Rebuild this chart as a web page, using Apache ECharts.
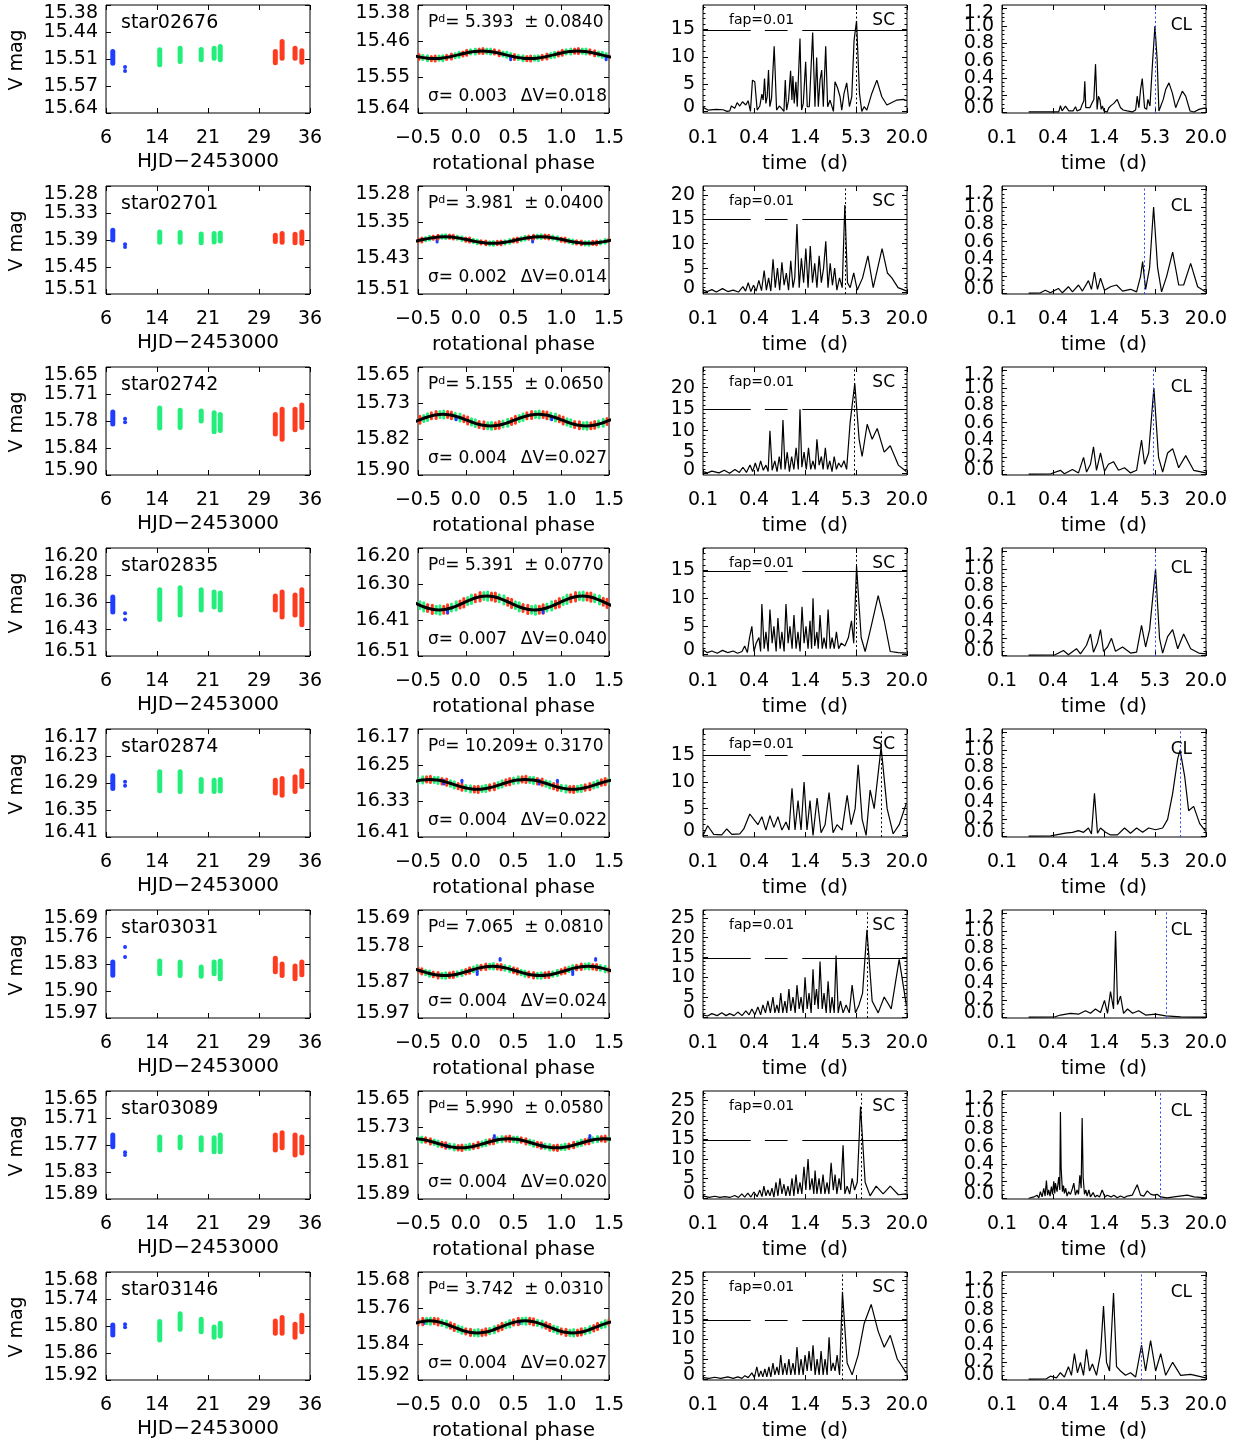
<!DOCTYPE html>
<html>
<head>
<meta charset="utf-8">
<script src="https://cdn.jsdelivr.net/npm/echarts@6/dist/echarts.min.js"></script>
<style>
  html, body { margin: 0; padding: 0; background: #fff; }
  #chart { width: 1247px; height: 1443px; }
</style>
</head>
<body>
<div id="chart"></div>
<script>
// ---------- per-star summary ----------
const starNames  = ['star02676','star02701','star02742','star02835','star02874','star03031','star03089','star03146'];
const periods    = [5.393, 3.981, 5.155, 5.391, 10.209, 7.065, 5.990, 3.742];
const periodErrs = [0.0840, 0.0400, 0.0650, 0.0770, 0.3170, 0.0810, 0.0580, 0.0310];
const sigmas     = [0.003, 0.002, 0.004, 0.007, 0.004, 0.004, 0.004, 0.004];
const deltaVs    = [0.018, 0.014, 0.027, 0.040, 0.022, 0.024, 0.020, 0.027];

// ---------- tick labels ----------
const hjdRange = [6, 36];
const hjdTickLabels = ['6','14','21','29','36'];
const phaseRange = [-0.5, 1.5];
const phaseTickLabels = ['\u22120.5','0.0','0.5','1.0','1.5'];
const periodTickLabels = ['0.1','0.4','1.4','5.3','20.0'];
const lcTickLabels = [
  ['15.38','15.44','15.51','15.57','15.64'],
  ['15.28','15.33','15.39','15.45','15.51'],
  ['15.65','15.71','15.78','15.84','15.90'],
  ['16.20','16.28','16.36','16.43','16.51'],
  ['16.17','16.23','16.29','16.35','16.41'],
  ['15.69','15.76','15.83','15.90','15.97'],
  ['15.65','15.71','15.77','15.83','15.89'],
  ['15.68','15.74','15.80','15.86','15.92']
];
const phTickLabels = [
  ['15.38','15.46','15.55','15.64'],
  ['15.28','15.35','15.43','15.51'],
  ['15.65','15.73','15.82','15.90'],
  ['16.20','16.30','16.41','16.51'],
  ['16.17','16.25','16.33','16.41'],
  ['15.69','15.78','15.87','15.97'],
  ['15.65','15.73','15.81','15.89'],
  ['15.68','15.76','15.84','15.92']
];
const scTickValues = [0, 5, 10, 15, 20, 25];
const scTopPower = [19.5, 21.8, 24.8, 19.0, 19.9, 27.0, 27.5, 27.0];
const fapLevels  = [14.9, 14.9, 14.9, 14.9, 14.9, 14.9, 14.9, 14.9];
// pieces of the fap=0.01 level line, in log10(days)
const fapPieces = [[-1.0, -0.461], [-0.302, -0.046], [0.120, 1.301]];
const clTickValues = [0, 0.2, 0.4, 0.6, 0.8, 1.0, 1.2];
const clTickLabels = ['0.0','0.2','0.4','0.6','0.8','1.0','1.2'];

// ---------- light curves: [HJD-2453000, mag top, mag bottom, run] ----------
const lc1 = [[7.0,15.492,15.520,0],[8.8,15.529,15.529,0],[8.8,15.539,15.539,0],[13.9,15.488,15.524,1],[16.9,15.484,15.516,1],[20.0,15.487,15.512,1],[21.9,15.484,15.508,1],[22.8,15.480,15.512,1],[30.9,15.492,15.519,2],[31.9,15.468,15.508,2],[33.8,15.484,15.508,2],[34.8,15.490,15.518,2]];
const lc2 = [[7.0,15.374,15.395,0],[8.8,15.404,15.404,0],[8.8,15.410,15.410,0],[13.9,15.378,15.400,1],[16.9,15.379,15.400,1],[20.0,15.382,15.401,1],[21.9,15.381,15.399,1],[22.8,15.380,15.397,1],[30.9,15.385,15.398,2],[31.9,15.381,15.400,2],[33.8,15.383,15.401,2],[34.8,15.378,15.402,2]];
const lc3 = [[7.0,15.754,15.782,0],[8.8,15.770,15.770,0],[8.8,15.778,15.778,0],[13.9,15.745,15.791,1],[16.9,15.750,15.790,1],[20.0,15.752,15.775,1],[21.9,15.756,15.800,1],[22.8,15.760,15.797,1],[30.9,15.760,15.805,2],[31.9,15.748,15.817,2],[33.8,15.748,15.795,2],[34.8,15.738,15.790,2]];
const lc4 = [[7.0,16.341,16.384,0],[8.8,16.387,16.387,0],[8.8,16.405,16.405,0],[13.9,16.320,16.405,1],[16.9,16.314,16.392,1],[20.0,16.320,16.378,1],[21.9,16.326,16.369,1],[22.8,16.329,16.378,1],[30.9,16.338,16.378,2],[31.9,16.326,16.398,2],[33.8,16.335,16.392,2],[34.8,16.320,16.420,2]];
const lc5 = [[7.0,16.274,16.302,0],[8.8,16.287,16.287,0],[8.8,16.296,16.296,0],[13.9,16.265,16.307,1],[16.9,16.265,16.309,1],[20.0,16.282,16.309,1],[21.9,16.284,16.309,1],[22.8,16.282,16.308,1],[30.9,16.284,16.312,2],[31.9,16.280,16.317,2],[33.8,16.276,16.309,2],[34.8,16.263,16.298,2]];
const lc6 = [[7.0,15.825,15.859,0],[8.8,15.812,15.812,0],[8.8,15.786,15.786,0],[13.9,15.822,15.855,1],[16.9,15.825,15.860,1],[20.0,15.838,15.862,1],[21.9,15.825,15.855,1],[22.8,15.822,15.868,1],[30.9,15.815,15.850,2],[31.9,15.830,15.860,2],[33.8,15.835,15.868,2],[34.8,15.825,15.858,2]];
const lc7 = [[7.0,15.748,15.774,0],[8.8,15.786,15.786,0],[8.8,15.792,15.792,0],[13.9,15.752,15.781,1],[16.9,15.752,15.776,1],[20.0,15.754,15.781,1],[21.9,15.754,15.785,1],[22.8,15.748,15.785,1],[30.9,15.748,15.781,2],[31.9,15.743,15.776,2],[33.8,15.748,15.792,2],[34.8,15.752,15.788,2]];
const lc8 = [[7.0,15.798,15.820,0],[8.8,15.796,15.796,0],[8.8,15.803,15.803,0],[13.9,15.790,15.831,1],[16.9,15.773,15.807,1],[20.0,15.785,15.813,1],[21.9,15.802,15.825,1],[22.8,15.794,15.822,1],[30.9,15.789,15.816,2],[31.9,15.781,15.816,2],[33.8,15.796,15.825,2],[34.8,15.776,15.813,2]];

// ---------- nightly groups folded on one cycle: [phase, mean mag, half spread, run] ----------
const ph1 = [[0.18,15.491,0.006,2],[0.22,15.491,0.005,1],[0.26,15.492,0.006,1],[0.30,15.493,0.005,2],[0.35,15.496,0.006,2],[0.39,15.498,0.005,1],[0.43,15.500,0.006,1],[0.47,15.502,0.005,1],[0.51,15.505,0.006,2],[0.55,15.506,0.005,1],[0.60,15.508,0.006,1],[0.64,15.509,0.005,2],[0.68,15.509,0.006,2],[0.72,15.508,0.005,1],[0.76,15.508,0.006,1],[0.80,15.506,0.005,2],[0.85,15.504,0.006,2],[0.89,15.502,0.005,1],[0.93,15.500,0.006,1],[0.97,15.498,0.005,2],[0.01,15.495,0.006,2],[0.05,15.493,0.005,1],[0.10,15.492,0.006,1],[0.14,15.491,0.005,2],[0.47,15.509,0.003,0]];
const ph2 = [[0.79,15.388,0.004,1],[0.83,15.388,0.0035,2],[0.87,15.389,0.004,2],[0.91,15.390,0.0035,1],[0.96,15.392,0.004,1],[0.00,15.394,0.0035,2],[0.04,15.395,0.004,2],[0.08,15.397,0.0035,1],[0.12,15.399,0.004,1],[0.16,15.400,0.0035,2],[0.21,15.401,0.004,2],[0.25,15.402,0.0035,1],[0.29,15.402,0.004,1],[0.33,15.401,0.0035,2],[0.37,15.401,0.004,2],[0.41,15.400,0.0035,1],[0.46,15.398,0.004,1],[0.50,15.396,0.0035,2],[0.54,15.395,0.004,2],[0.58,15.393,0.0035,1],[0.62,15.391,0.004,1],[0.66,15.390,0.0035,2],[0.71,15.389,0.004,2],[0.75,15.388,0.0035,1],[0.70,15.396,0.003,0]];
const ph3 = [[0.77,15.760,0.008,1],[0.81,15.760,0.007,2],[0.85,15.762,0.008,2],[0.89,15.764,0.007,1],[0.94,15.767,0.008,1],[0.98,15.770,0.007,2],[0.02,15.774,0.008,2],[0.06,15.777,0.007,1],[0.10,15.780,0.008,1],[0.14,15.783,0.007,2],[0.19,15.785,0.008,2],[0.23,15.786,0.007,1],[0.27,15.786,0.008,1],[0.31,15.786,0.007,2],[0.35,15.784,0.008,2],[0.39,15.782,0.007,1],[0.44,15.779,0.008,1],[0.48,15.776,0.007,2],[0.52,15.772,0.008,2],[0.56,15.769,0.007,1],[0.60,15.766,0.008,1],[0.64,15.763,0.007,2],[0.69,15.761,0.008,2],[0.73,15.760,0.007,1],[0.90,15.768,0.004,0]];
const ph4 = [[0.23,16.338,0.012,1],[0.27,16.339,0.010,2],[0.31,16.341,0.012,2],[0.35,16.344,0.010,1],[0.40,16.349,0.012,1],[0.44,16.354,0.010,2],[0.48,16.359,0.012,2],[0.52,16.364,0.010,1],[0.56,16.369,0.012,1],[0.60,16.372,0.010,2],[0.65,16.376,0.012,2],[0.69,16.377,0.010,1],[0.73,16.378,0.012,1],[0.77,16.377,0.010,2],[0.81,16.375,0.012,2],[0.85,16.371,0.010,1],[0.90,16.366,0.012,1],[0.94,16.362,0.010,2],[0.98,16.357,0.012,2],[0.02,16.352,0.010,1],[0.06,16.347,0.012,1],[0.10,16.344,0.010,2],[0.15,16.340,0.012,2],[0.19,16.338,0.010,1],[0.81,16.382,0.004,0]];
const ph5 = [[0.63,16.282,0.007,2],[0.67,16.283,0.006,1],[0.71,16.284,0.007,1],[0.75,16.286,0.006,2],[0.80,16.288,0.007,2],[0.84,16.291,0.006,1],[0.88,16.294,0.007,1],[0.92,16.297,0.006,2],[0.96,16.299,0.007,2],[0.00,16.301,0.006,1],[0.05,16.303,0.007,1],[0.09,16.304,0.006,2],[0.13,16.304,0.007,2],[0.17,16.303,0.006,1],[0.21,16.302,0.007,1],[0.25,16.300,0.006,2],[0.30,16.298,0.007,2],[0.34,16.295,0.006,1],[0.38,16.292,0.007,1],[0.42,16.289,0.006,2],[0.46,16.287,0.007,2],[0.50,16.285,0.006,1],[0.55,16.283,0.007,1],[0.59,16.282,0.006,2],[0.77,16.288,0.004,0],[0.96,16.286,0.002,0]];
const ph6 = [[0.29,15.836,0.007,1],[0.33,15.837,0.006,2],[0.37,15.838,0.007,2],[0.41,15.840,0.006,1],[0.46,15.843,0.007,1],[0.50,15.846,0.006,2],[0.54,15.849,0.007,2],[0.58,15.852,0.006,1],[0.62,15.855,0.007,1],[0.66,15.857,0.006,2],[0.71,15.859,0.007,2],[0.75,15.860,0.006,1],[0.79,15.860,0.007,1],[0.83,15.859,0.006,2],[0.87,15.858,0.007,2],[0.91,15.856,0.006,1],[0.96,15.853,0.007,1],[0.00,15.850,0.006,2],[0.04,15.847,0.007,2],[0.08,15.844,0.006,1],[0.12,15.841,0.007,1],[0.16,15.839,0.006,2],[0.21,15.837,0.007,2],[0.25,15.836,0.006,1],[0.36,15.818,0.002,0],[0.12,15.853,0.004,0]];
const ph7 = [[0.46,15.756,0.006,2],[0.50,15.757,0.005,1],[0.54,15.758,0.006,1],[0.58,15.759,0.005,2],[0.63,15.762,0.006,2],[0.67,15.764,0.005,1],[0.71,15.767,0.006,1],[0.75,15.769,0.005,2],[0.79,15.771,0.006,2],[0.83,15.773,0.005,1],[0.88,15.775,0.006,1],[0.92,15.776,0.005,2],[0.96,15.776,0.006,2],[0.00,15.775,0.005,1],[0.04,15.774,0.006,1],[0.08,15.773,0.005,2],[0.13,15.770,0.006,2],[0.17,15.768,0.005,1],[0.21,15.765,0.006,1],[0.25,15.763,0.005,2],[0.29,15.761,0.006,2],[0.33,15.759,0.005,1],[0.38,15.757,0.006,1],[0.42,15.756,0.005,2],[0.30,15.752,0.003,0],[0.80,15.772,0.002,0]];
const ph8 = [[0.63,15.789,0.007,1],[0.67,15.789,0.006,2],[0.71,15.791,0.007,2],[0.75,15.793,0.006,1],[0.80,15.796,0.007,1],[0.84,15.799,0.006,2],[0.88,15.803,0.007,2],[0.92,15.806,0.006,1],[0.96,15.809,0.007,1],[0.00,15.812,0.006,2],[0.05,15.814,0.007,2],[0.09,15.815,0.006,1],[0.13,15.815,0.007,1],[0.17,15.815,0.006,2],[0.21,15.813,0.007,2],[0.25,15.811,0.006,1],[0.30,15.808,0.007,1],[0.34,15.805,0.006,2],[0.38,15.801,0.007,2],[0.42,15.798,0.006,1],[0.46,15.795,0.007,1],[0.50,15.792,0.006,2],[0.55,15.790,0.007,2],[0.59,15.789,0.006,1],[0.57,15.792,0.002,0],[0.83,15.798,0.002,0]];

// ---------- sinusoidal fits sampled over one cycle: [phase, mag] ----------
const fit1 = [[0.17,15.491],[0.253,15.4922],[0.337,15.4955],[0.42,15.500],[0.503,15.5045],[0.587,15.5078],[0.67,15.509],[0.753,15.5078],[0.837,15.5045],[0.92,15.500],[0.003,15.4955],[0.087,15.4922]];
const fit2 = [[0.78,15.388],[0.863,15.3889],[0.947,15.3915],[0.03,15.395],[0.113,15.3985],[0.197,15.4011],[0.28,15.402],[0.363,15.4011],[0.447,15.3985],[0.53,15.395],[0.613,15.3915],[0.697,15.3889]];
const fit3 = [[0.76,15.7595],[0.843,15.7613],[0.927,15.7663],[0.01,15.773],[0.093,15.7798],[0.177,15.7847],[0.26,15.7865],[0.343,15.7847],[0.427,15.7798],[0.51,15.773],[0.593,15.7663],[0.677,15.7613]];
const fit4 = [[0.22,16.338],[0.303,16.3407],[0.387,16.348],[0.47,16.358],[0.553,16.368],[0.637,16.3753],[0.72,16.378],[0.803,16.3753],[0.887,16.368],[0.97,16.358],[0.053,16.348],[0.137,16.3407]];
const fit5 = [[0.62,16.282],[0.703,16.2835],[0.787,16.2875],[0.87,16.293],[0.953,16.2985],[0.037,16.3025],[0.12,16.304],[0.203,16.3025],[0.287,16.2985],[0.37,16.293],[0.453,16.2875],[0.537,16.2835]];
const fit6 = [[0.28,15.836],[0.363,15.8376],[0.447,15.842],[0.53,15.848],[0.613,15.854],[0.697,15.8584],[0.78,15.860],[0.863,15.8584],[0.947,15.854],[0.03,15.848],[0.113,15.842],[0.197,15.8376]];
const fit7 = [[0.45,15.756],[0.533,15.7573],[0.617,15.761],[0.70,15.766],[0.783,15.771],[0.867,15.7747],[0.95,15.776],[0.033,15.7747],[0.117,15.771],[0.20,15.766],[0.283,15.761],[0.367,15.7573]];
const fit8 = [[0.62,15.7885],[0.703,15.7903],[0.787,15.7953],[0.87,15.802],[0.953,15.8088],[0.037,15.8137],[0.12,15.8155],[0.203,15.8137],[0.287,15.8088],[0.37,15.802],[0.453,15.7953],[0.537,15.7903]];

// ---------- Scargle periodograms: [log10(period / d), power] ----------
const sc1 = [[-1.000,0.73],[-0.943,0.24],[-0.850,0.35],[-0.774,0.30],[-0.729,0.00],[-0.698,0.10],[-0.680,0.98],[-0.642,0.55],[-0.615,1.58],[-0.585,0.98],[-0.555,1.77],[-0.517,1.16],[-0.491,1.95],[-0.465,0.00],[-0.442,5.73],[-0.416,5.42],[-0.389,0.24],[-0.359,0.98],[-0.336,3.17],[-0.321,2.07],[-0.306,6.03],[-0.291,1.46],[-0.276,2.68],[-0.261,7.56],[-0.246,0.85],[-0.227,2.38],[-0.197,11.94],[-0.170,0.24],[-0.140,0.98],[-0.114,0.55],[-0.087,0.00],[-0.072,5.73],[-0.057,0.24],[-0.035,2.07],[-0.012,7.43],[0.003,2.07],[0.014,6.46],[0.029,1.46],[0.048,5.42],[0.063,0.85],[0.094,13.35],[0.112,0.24],[0.131,1.46],[0.158,9.08],[0.176,0.85],[0.199,0.85],[0.237,14.44],[0.263,0.85],[0.282,9.87],[0.301,0.85],[0.320,5.73],[0.339,7.56],[0.357,0.85],[0.384,11.94],[0.406,0.85],[0.433,2.07],[0.471,0.00],[0.489,5.42],[0.516,4.39],[0.546,2.68],[0.565,0.24],[0.591,3.29],[0.621,5.24],[0.652,0.85],[0.678,2.68],[0.704,13.04],[0.732,16.58],[0.765,3.29],[0.791,0.00],[0.818,0.85],[0.848,0.24],[0.904,3.29],[0.961,5.73],[1.017,2.68],[1.074,1.16],[1.187,2.07],[1.262,2.19],[1.301,1.95]];
const sc2 = [[-1.0,0.5],[-0.95,0.2],[-0.90,0.6],[-0.85,0.1],[-0.78,0.8],[-0.72,0.2],[-0.66,0.5],[-0.60,0.1],[-0.55,1.2],[-0.52,0.3],[-0.49,2.0],[-0.46,0.2],[-0.43,1.5],[-0.40,0.3],[-0.37,2.5],[-0.34,0.4],[-0.31,4.5],[-0.285,0.5],[-0.26,3],[-0.235,0.3],[-0.21,6.8],[-0.185,1],[-0.16,5],[-0.135,0.5],[-0.11,6.2],[-0.085,1.5],[-0.06,4],[-0.035,0.5],[-0.01,6.5],[0.015,1],[0.035,3],[0.060,14],[0.085,1],[0.11,7],[0.135,2],[0.16,9],[0.185,1],[0.21,9.5],[0.235,2],[0.26,6],[0.285,1],[0.31,7.5],[0.335,2],[0.36,5],[0.385,10.5],[0.41,1],[0.435,6],[0.46,1.5],[0.485,5],[0.51,0.5],[0.54,3],[0.57,1],[0.600,17.9],[0.63,2],[0.66,1],[0.70,4],[0.74,0.5],[0.80,3],[0.86,7.5],[0.92,1],[0.97,5],[1.02,9],[1.08,4],[1.13,3],[1.20,1],[1.301,0.3]];
const sc3 = [[-1.0,0.5],[-0.95,0.2],[-0.90,0.6],[-0.82,0.2],[-0.76,0.8],[-0.70,0.1],[-0.64,1.0],[-0.59,0.3],[-0.55,1.5],[-0.51,0.3],[-0.47,2],[-0.44,0.5],[-0.41,2.5],[-0.38,0.5],[-0.35,3],[-0.32,0.8],[-0.29,2],[-0.265,0.5],[-0.245,10],[-0.22,0.8],[-0.19,3],[-0.165,0.5],[-0.14,4],[-0.12,1],[-0.098,12.5],[-0.075,1],[-0.05,5],[-0.025,0.5],[0.0,4],[0.025,1],[0.05,6],[0.075,1],[0.094,15],[0.115,1.5],[0.14,5],[0.165,1],[0.19,6],[0.215,1],[0.24,3],[0.265,1],[0.285,8],[0.31,2],[0.335,4],[0.355,1],[0.38,6],[0.405,1],[0.43,3],[0.455,0.5],[0.48,4],[0.505,1],[0.53,2.5],[0.56,1.5],[0.59,3],[0.62,1],[0.66,12],[0.712,21],[0.761,8],[0.795,4],[0.852,11.5],[0.908,8],[0.965,10.5],[1.044,5],[1.112,6.5],[1.203,2],[1.293,0.5]];
const sc4 = [[-1.0,0.8],[-0.95,0.3],[-0.90,0.6],[-0.84,0.2],[-0.78,0.7],[-0.72,0.3],[-0.66,0.6],[-0.61,0.2],[-0.56,0.5],[-0.53,1.5],[-0.50,0.3],[-0.475,3],[-0.449,5],[-0.425,0.5],[-0.40,2],[-0.369,3],[-0.35,0.5],[-0.336,9],[-0.31,1],[-0.29,4],[-0.265,0.5],[-0.245,8],[-0.22,2],[-0.20,5],[-0.175,0.5],[-0.155,6.5],[-0.13,1],[-0.11,4],[-0.085,0.5],[-0.064,9],[-0.04,2],[-0.019,5],[0.005,1],[0.026,7],[0.05,1],[0.071,4],[0.095,0.5],[0.117,8.5],[0.14,2],[0.162,5],[0.185,1],[0.207,6],[0.225,1],[0.241,10],[0.26,1.5],[0.285,4],[0.30,1],[0.320,7],[0.345,1],[0.365,3],[0.39,1],[0.411,8],[0.435,1],[0.456,3],[0.48,1],[0.505,4],[0.53,1],[0.56,2],[0.60,1.5],[0.64,3],[0.675,6],[0.70,2],[0.732,15.8],[0.784,3],[0.829,0.5],[0.897,5],[0.976,10.5],[1.044,6],[1.112,0.5],[1.203,0.3],[1.293,0.2]];
const sc5 = [[-1.0,0],[-0.947,1.8],[-0.879,0.2],[-0.788,0.1],[-0.732,1.2],[-0.675,0.2],[-0.585,0.3],[-0.540,1.2],[-0.472,4],[-0.426,3],[-0.381,2],[-0.336,3.5],[-0.291,1],[-0.245,3.7],[-0.200,1.5],[-0.155,3.5],[-0.110,1],[-0.064,2.5],[-0.030,1],[0.004,8.8],[0.038,1],[0.072,6.5],[0.106,1],[0.140,10],[0.173,1],[0.207,6.5],[0.241,0],[0.287,7],[0.332,0.5],[0.377,2],[0.422,8],[0.467,0.5],[0.512,2],[0.569,1],[0.626,7.5],[0.671,2],[0.716,5],[0.750,13.2],[0.795,3],[0.840,0],[0.885,8.5],[0.931,5],[1.009,16.5],[1.077,5],[1.145,0.3],[1.213,2],[1.293,6]];
const sc6 = [[-1.0,0.5],[-0.95,0.2],[-0.90,0.8],[-0.84,0.3],[-0.788,1],[-0.74,0.3],[-0.698,0.8],[-0.65,0.3],[-0.607,1.2],[-0.56,0.3],[-0.517,1.5],[-0.48,0.5],[-0.449,2],[-0.415,0.5],[-0.381,2.5],[-0.35,0.5],[-0.324,3],[-0.295,1],[-0.268,4],[-0.24,1],[-0.211,5],[-0.19,1],[-0.166,3],[-0.145,1],[-0.123,6],[-0.10,1],[-0.076,4],[-0.055,1],[-0.031,7],[-0.01,1.5],[0.015,5],[0.04,1],[0.060,8],[0.085,2],[0.106,5],[0.13,1],[0.151,10],[0.175,2],[0.196,6],[0.22,1],[0.241,12],[0.26,3],[0.28,7],[0.30,2],[0.320,14],[0.345,2],[0.365,6],[0.39,1],[0.411,9],[0.435,1],[0.456,5],[0.48,1],[0.501,15.5],[0.525,1],[0.55,4],[0.58,1],[0.614,3],[0.65,1],[0.682,8],[0.72,1],[0.760,3],[0.80,6],[0.849,22],[0.908,4],[0.976,1],[1.044,5],[1.123,2],[1.213,14.5],[1.293,3]];
const sc7 = [[-1.0,0.5],[-0.93,0.1],[-0.868,0.4],[-0.81,0.1],[-0.754,0.3],[-0.70,0.1],[-0.641,0.6],[-0.60,0.1],[-0.562,1],[-0.53,0.2],[-0.494,1.2],[-0.46,0.2],[-0.426,1.5],[-0.39,0.3],[-0.359,2],[-0.335,0.3],[-0.313,3],[-0.29,0.5],[-0.268,2],[-0.245,0.5],[-0.222,2.5],[-0.20,0.2],[-0.177,4],[-0.155,0.5],[-0.132,5],[-0.11,1],[-0.087,3.5],[-0.065,0.5],[-0.042,3],[-0.02,0.5],[0.004,5],[0.025,0.5],[0.049,6],[0.07,1],[0.094,4],[0.115,1],[0.139,8],[0.16,2],[0.185,10],[0.205,2],[0.23,5],[0.25,1],[0.264,7],[0.285,1],[0.309,5],[0.33,1],[0.354,6],[0.375,1],[0.399,4],[0.42,1],[0.445,9],[0.47,2],[0.490,6],[0.51,1],[0.535,5],[0.555,2],[0.580,13.5],[0.60,1],[0.626,3],[0.655,1],[0.682,5],[0.71,2],[0.740,4],[0.777,23.5],[0.829,4],[0.885,0.5],[0.953,3],[1.032,1],[1.112,3],[1.203,0.8],[1.293,1]];
const sc8 = [[-1.0,0.3],[-0.93,0.1],[-0.868,0.4],[-0.80,0.1],[-0.720,0.5],[-0.66,0.1],[-0.607,0.5],[-0.56,0.1],[-0.528,0.8],[-0.49,0.3],[-0.449,1.5],[-0.42,0.3],[-0.393,3],[-0.37,0.5],[-0.347,2],[-0.325,0.5],[-0.302,2.5],[-0.28,0.5],[-0.257,3],[-0.235,0.5],[-0.211,4],[-0.19,1],[-0.166,3],[-0.145,1],[-0.123,6],[-0.10,1],[-0.076,4],[-0.055,1],[-0.031,5],[-0.01,1],[0.015,4],[0.038,1],[0.060,8],[0.083,1],[0.106,5],[0.13,1],[0.151,6],[0.175,2],[0.196,7],[0.22,2],[0.241,8.5],[0.265,1],[0.287,5],[0.31,1],[0.332,7],[0.355,1],[0.377,5],[0.40,1],[0.422,10.5],[0.445,2],[0.467,4],[0.49,2],[0.513,6],[0.54,1],[0.573,22],[0.626,4],[0.682,1],[0.750,6],[0.818,14],[0.897,18.8],[0.976,12],[1.044,8],[1.112,11],[1.191,5],[1.293,1.5]];

// ---------- CLEAN periodograms: [log10(period / d), normalised power] ----------
const cl1 = [[-0.699,0.008],[-0.500,0.008],[-0.360,0.008],[-0.341,0.08],[-0.322,0.02],[-0.284,0.076],[-0.266,0.095],[-0.247,0.02],[-0.198,0.02],[-0.171,0.069],[-0.153,0.02],[-0.115,0.038],[-0.096,0.095],[-0.077,0.134],[-0.066,0.363],[-0.055,0.057],[-0.040,0.038],[-0.009,0.057],[0.017,0.115],[0.036,0.153],[0.055,0.56],[0.073,0.038],[0.088,0.19],[0.104,0.153],[0.119,0.038],[0.134,0.076],[0.149,0.02],[0.186,0.008],[0.205,0.057],[0.232,0.084],[0.262,0.107],[0.299,0.153],[0.337,0.057],[0.367,0.031],[0.412,0.02],[0.469,0.008],[0.507,0.031],[0.525,0.19],[0.544,0.057],[0.563,0.267],[0.582,0.393],[0.608,0.057],[0.631,0.038],[0.646,0.153],[0.669,0.076],[0.700,0.611],[0.725,1.0],[0.750,0.611],[0.770,0.019],[0.789,0.038],[0.819,0.153],[0.846,0.267],[0.883,0.344],[0.921,0.229],[0.959,0.057],[0.996,0.153],[1.034,0.248],[1.072,0.191],[1.121,0.019],[1.166,0.008],[1.222,0.038],[1.279,0.053],[1.301,0.053]];
const cl2 = [[-0.70,0.005],[-0.567,0.01],[-0.511,0.04],[-0.454,0.01],[-0.364,0.06],[-0.319,0.01],[-0.251,0.08],[-0.205,0.02],[-0.137,0.1],[-0.093,0.03],[-0.025,0.15],[0.009,0.05],[0.043,0.25],[0.077,0.05],[0.111,0.18],[0.156,0.04],[0.224,0.08],[0.292,0.1],[0.360,0.03],[0.450,0.05],[0.518,0.02],[0.563,0.2],[0.586,0.37],[0.620,0.05],[0.665,0.3],[0.710,1.0],[0.755,0.3],[0.800,0.02],[0.857,0.2],[0.925,0.48],[0.993,0.1],[1.049,0.1],[1.128,0.35],[1.207,0.08],[1.298,0.02]];
const cl3 = [[-0.70,0.005],[-0.45,0.01],[-0.341,0.05],[-0.296,0.01],[-0.205,0.06],[-0.137,0.02],[-0.080,0.2],[-0.046,0.03],[-0.002,0.12],[0.032,0.32],[0.066,0.05],[0.111,0.25],[0.156,0.04],[0.201,0.12],[0.258,0.15],[0.314,0.05],[0.382,0.08],[0.450,0.02],[0.518,0.05],[0.574,0.4],[0.608,0.12],[0.654,0.25],[0.713,1.0],[0.766,0.2],[0.812,0.03],[0.868,0.25],[0.925,0.3],[0.993,0.08],[1.072,0.22],[1.162,0.05],[1.298,0.02]];
const cl4 = [[-0.70,0.005],[-0.40,0.01],[-0.307,0.06],[-0.251,0.01],[-0.160,0.08],[-0.115,0.02],[-0.047,0.12],[-0.002,0.25],[0.032,0.04],[0.077,0.15],[0.111,0.3],[0.145,0.05],[0.190,0.1],[0.235,0.2],[0.280,0.05],[0.360,0.1],[0.450,0.03],[0.518,0.04],[0.574,0.35],[0.620,0.1],[0.665,0.3],[0.732,1.0],[0.777,0.2],[0.812,0.03],[0.868,0.22],[0.925,0.3],[0.982,0.08],[1.049,0.25],[1.128,0.08],[1.219,0.03],[1.298,0.02]];
const cl5 = [[-0.70,0.005],[-0.45,0.01],[-0.284,0.04],[-0.205,0.05],[-0.137,0.07],[-0.080,0.05],[-0.025,0.1],[0.009,0.03],[0.043,0.5],[0.077,0.04],[0.111,0.1],[0.168,0.05],[0.224,0.02],[0.303,0.02],[0.382,0.1],[0.450,0.04],[0.518,0.1],[0.586,0.05],[0.654,0.1],[0.732,0.08],[0.812,0.1],[0.868,0.2],[0.925,0.5],[0.982,0.9],[1.009,1.0],[1.060,0.7],[1.105,0.3],[1.162,0.35],[1.230,0.15],[1.298,0.06]];
const cl6 = [[-0.70,0.005],[-0.40,0.01],[-0.341,0.03],[-0.228,0.05],[-0.137,0.04],[-0.058,0.08],[-0.002,0.05],[0.054,0.1],[0.111,0.06],[0.156,0.2],[0.190,0.05],[0.224,0.3],[0.258,0.1],[0.281,1.0],[0.303,0.15],[0.337,0.25],[0.371,0.05],[0.416,0.1],[0.473,0.05],[0.541,0.08],[0.620,0.03],[0.733,0.04],[0.846,0.02],[1.015,0.01],[1.185,0.005],[1.298,0.005]];
const cl7 = [[-0.699,0.005],[-0.640,0.02],[-0.605,0.04],[-0.585,0.01],[-0.567,0.08],[-0.548,0.02],[-0.529,0.12],[-0.514,0.03],[-0.499,0.21],[-0.486,0.04],[-0.473,0.1],[-0.458,0.03],[-0.443,0.14],[-0.430,0.05],[-0.416,0.2],[-0.405,0.06],[-0.397,0.18],[-0.379,0.08],[-0.360,0.25],[-0.348,0.1],[-0.341,1.0],[-0.333,0.35],[-0.318,0.08],[-0.306,0.15],[-0.296,0.06],[-0.281,0.12],[-0.266,0.03],[-0.248,0.08],[-0.228,0.05],[-0.205,0.12],[-0.190,0.18],[-0.172,0.04],[-0.153,0.1],[-0.137,0.05],[-0.122,0.27],[-0.107,0.12],[-0.096,0.93],[-0.085,0.25],[-0.070,0.05],[-0.055,0.1],[-0.040,0.03],[-0.020,0.1],[-0.002,0.02],[0.028,0.07],[0.050,0.02],[0.073,0.04],[0.100,0.02],[0.130,0.1],[0.160,0.02],[0.186,0.04],[0.230,0.02],[0.262,0.04],[0.300,0.01],[0.337,0.03],[0.380,0.01],[0.412,0.03],[0.469,0.04],[0.525,0.16],[0.563,0.04],[0.600,0.03],[0.638,0.09],[0.680,0.05],[0.714,0.04],[0.750,0.05],[0.789,0.02],[0.864,0.01],[0.940,0.02],[1.090,0.04],[1.166,0.02],[1.301,0.01]];
const cl8 = [[-0.70,0.005],[-0.50,0.01],[-0.454,0.04],[-0.386,0.02],[-0.341,0.08],[-0.296,0.03],[-0.251,0.15],[-0.217,0.05],[-0.183,0.3],[-0.149,0.08],[-0.115,0.2],[-0.081,0.05],[-0.047,0.35],[-0.013,0.1],[0.020,0.18],[0.066,0.05],[0.111,0.3],[0.145,0.85],[0.179,0.2],[0.213,0.1],[0.258,1.0],[0.292,0.15],[0.337,0.1],[0.393,0.05],[0.450,0.08],[0.507,0.03],[0.574,0.4],[0.620,0.1],[0.676,0.45],[0.733,0.1],[0.790,0.3],[0.846,0.05],[0.925,0.2],[1.015,0.05],[1.128,0.06],[1.298,0.02]];

const lcData  = [lc1, lc2, lc3, lc4, lc5, lc6, lc7, lc8];
const phData  = [ph1, ph2, ph3, ph4, ph5, ph6, ph7, ph8];
const fitData = [fit1, fit2, fit3, fit4, fit5, fit6, fit7, fit8];
const scData  = [sc1, sc2, sc3, sc4, sc5, sc6, sc7, sc8];
const clData  = [cl1, cl2, cl3, cl4, cl5, cl6, cl7, cl8];

// ---------- layout & style ----------
const FONT = '"DejaVu Sans", sans-serif';
const ROW_H = 181, BOX_TOP = 5, BOX_H = 108;
const COLS = [{ left: 106, width: 204 }, { left: 418, width: 191 }, { left: 703, width: 204 }, { left: 1002, width: 204 }];
const RUN_COLORS = ['#1f3dff', '#22ee7a', '#ff3b1f'];
const LOG_MIN = -1, LOG_MAX = Math.log10(20);
const SC_BOTTOM = -0.3, CL_BOTTOM = -0.004, CL_TOP = 1.243;

const evenTicks = (min, max, n) => Array.from({ length: n }, (_, i) => i === n - 1 ? max : min + i * (max - min) / (n - 1));
const nearest = (arr, v) => { let b = 0; for (let i = 1; i < arr.length; i++) if (Math.abs(arr[i] - v) < Math.abs(arr[b] - v)) b = i; return b; };
const stepTicks = (min, max, step) => { const out = []; for (let v = Math.ceil(min / step - 1e-9) * step; v <= max + 1e-9; v += step) out.push(+v.toFixed(6)); return out; };

const grids = [], xAxes = [], yAxes = [], series = [], graphics = [];

function addGrid(c, top) {
  grids.push({ left: COLS[c].left, top, width: COLS[c].width, height: BOX_H, show: true,
    borderColor: '#000', borderWidth: 1, backgroundColor: 'transparent', outerBoundsMode: 'none' });
  return grids.length - 1;
}
function tickAxis(gi, pos, min, max, inverse, vals, len) {
  return { type: 'value', gridIndex: gi, position: pos, min, max, inverse,
    axisLine: { show: false, onZero: false }, splitLine: { show: false }, axisLabel: { show: false },
    axisTick: { show: true, inside: true, length: len, customValues: vals, lineStyle: { color: '#000', width: 1 } } };
}
function xLabelAxis(gi, min, max, vals, texts) {
  return { type: 'value', gridIndex: gi, position: 'bottom', min, max,
    axisLine: { show: false, onZero: false }, splitLine: { show: false },
    axisTick: { show: true, inside: true, length: 5, customValues: vals, lineStyle: { color: '#000', width: 1 } },
    axisLabel: { show: true, customValues: vals, showMinLabel: true, showMaxLabel: true, hideOverlap: false, margin: 16,
      fontFamily: FONT, fontSize: 19, color: '#000', formatter: v => texts[nearest(vals, v)] } };
}
// Left y labels. They sit centred on their tick, except that the end labels are kept inside the
// frame height. Alternate labels go on two stacked axes so that tightly packed labels all stay drawn.
function yLabelAxes(gi, min, max, inverse, vals, texts) {
  const rich = {};
  const keys = vals.map(v => {
    const frac = inverse ? (v - min) / (max - min) : (max - v) / (max - min);
    const px = frac * BOX_H;
    const c = Math.min(Math.max(px, 8), BOX_H - 5.5);
    const s = Math.round(c - px);
    const key = s >= 0 ? 'd' + s : 'u' + (-s);
    rich[key] = { padding: s >= 0 ? [2 * s, 0, 0, 0] : [0, 0, -2 * s, 0] };
    return key;
  });
  return [0, 1].map(parity => {
    const idx = vals.map((v, i) => i).filter(i => i % 2 === parity);
    const sub = idx.map(i => vals[i]);
    return { type: 'value', gridIndex: gi, position: 'left', min, max, inverse,
      axisLine: { show: false, onZero: false }, splitLine: { show: false },
      axisTick: { show: parity === 0, inside: true, length: 5, customValues: vals, lineStyle: { color: '#000', width: 1 } },
      axisLabel: { show: true, customValues: sub, showMinLabel: true, showMaxLabel: true, hideOverlap: false, margin: 8,
        fontFamily: FONT, fontSize: 19, color: '#000', rich,
        formatter: v => { const i = nearest(vals, v); return '{' + keys[i] + '|' + texts[i] + '}'; } } };
  });
}
// one vertical streak per night: from two magnitudes (light curve) or centre +- spread (phased)
function streakSeries(xi, yi, data, width, centred) {
  return { type: 'custom', xAxisIndex: xi, yAxisIndex: yi, data, clip: true, silent: true,
    encode: { x: 0, y: [1, 2] },
    renderItem: (params, api) => {
      const x = api.value(0), v1 = api.value(1), v2 = api.value(2);
      const m1 = centred ? v1 - v2 : v1, m2 = centred ? v1 + v2 : v2;
      const a = api.coord([x, m1]), b = api.coord([x, m2]);
      const color = RUN_COLORS[api.value(3)];
      if (Math.abs(b[1] - a[1]) < 0.8) return { type: 'circle', shape: { cx: a[0], cy: a[1], r: 2 }, style: { fill: color } };
      return { type: 'line', shape: { x1: a[0], y1: a[1], x2: b[0], y2: b[1] }, style: { stroke: color, lineWidth: width, lineCap: 'round' } };
    } };
}
// repeat one cycle of phased data over the plotted phase range
function foldPhase(points) {
  const out = [];
  points.forEach(p => [-1, 0, 1].forEach(k => { const ph = p[0] + k; if (ph > -0.75 && ph < 1.75) out.push([ph].concat(p.slice(1))); }));
  return out.sort((a, b) => a[0] - b[0]);
}
function text(x, y, str, size, align, extra) {
  graphics.push(Object.assign({ type: 'text', x, y, silent: true, z: 100,
    style: { text: str, fontFamily: FONT, fontSize: size, fill: '#000', align: align || 'left', verticalAlign: 'middle' } }, extra || {}));
}

const hjdTicks = evenTicks(hjdRange[0], hjdRange[1], 5);
const phaseTicks = evenTicks(phaseRange[0], phaseRange[1], 5);
const periodTicks = evenTicks(LOG_MIN, LOG_MAX, 5);

for (let r = 0; r < 8; r++) {
  const top = BOX_TOP + r * ROW_H;

  // --- light curve ---
  {
    const gi = addGrid(0, top);
    const min = +lcTickLabels[r][0], max = +lcTickLabels[r][4];
    const ticks = evenTicks(min, max, 5);
    const xi = xAxes.length;
    xAxes.push(xLabelAxis(gi, hjdRange[0], hjdRange[1], hjdTicks, hjdTickLabels));
    xAxes.push(tickAxis(gi, 'top', hjdRange[0], hjdRange[1], false, hjdTicks, 5));
    const yi = yAxes.length;
    yAxes.push(...yLabelAxes(gi, min, max, true, ticks, lcTickLabels[r]));
    yAxes.push(tickAxis(gi, 'right', min, max, true, ticks, 5));
    series.push(streakSeries(xi, yi, lcData[r], 5, false));
    text(COLS[0].left + 15, top + 18, starNames[r], 19);
    text(17.5, top + 55, 'V mag', 19, 'center', { rotation: Math.PI / 2 });
    text(COLS[0].left + COLS[0].width / 2, top + 157, 'HJD\u22122453000', 20, 'center');
  }

  // --- phased light curve ---
  {
    const gi = addGrid(1, top);
    const min = +phTickLabels[r][0], max = +phTickLabels[r][3];
    const ticks = evenTicks(min, max, 4);
    const xi = xAxes.length;
    xAxes.push(xLabelAxis(gi, phaseRange[0], phaseRange[1], phaseTicks, phaseTickLabels));
    xAxes.push(tickAxis(gi, 'top', phaseRange[0], phaseRange[1], false, phaseTicks, 5));
    const yi = yAxes.length;
    yAxes.push(...yLabelAxes(gi, min, max, true, ticks, phTickLabels[r]));
    yAxes.push(tickAxis(gi, 'right', min, max, true, ticks, 5));
    series.push(streakSeries(xi, yi, foldPhase(phData[r]), 3, true));
    series.push({ type: 'line', xAxisIndex: xi, yAxisIndex: yi, data: foldPhase(fitData[r]), smooth: 0.5,
      symbol: 'none', clip: true, silent: true, z: 5, lineStyle: { color: '#000', width: 3 } });
    const left = COLS[1].left + 10, right = COLS[1].left + COLS[1].width - 2;
    const p = periods[r];
    const pStr = '= ' + p.toFixed(3) + (p < 10 ? '  ' : '') + '\u00b1 ' + periodErrs[r].toFixed(4);
    graphics.push({ type: 'text', x: left, y: top + 17.5, silent: true, z: 100,
      style: { text: '{a|P}{b|d}{a|' + pStr + '}', fontFamily: FONT, fontSize: 17, fill: '#000', align: 'left', verticalAlign: 'middle',
        rich: { a: { fontFamily: FONT, fontSize: 17, fill: '#000' }, b: { fontFamily: FONT, fontSize: 11, fill: '#000', verticalAlign: 'top' } } } });
    text(left, top + 91.5, '\u03c3= ' + sigmas[r].toFixed(3), 17);
    text(right, top + 91.5, '\u0394V=' + deltaVs[r].toFixed(3), 17, 'right');
    text(COLS[1].left + COLS[1].width / 2, top + 158.5, 'rotational phase', 20, 'center');
  }

  // --- Scargle periodogram ---
  {
    const gi = addGrid(2, top);
    const max = scTopPower[r];
    const ticks = scTickValues.filter(v => v <= max);
    const minor = stepTicks(0, max, 1);
    const xi = xAxes.length;
    xAxes.push(xLabelAxis(gi, LOG_MIN, LOG_MAX, periodTicks, periodTickLabels));
    xAxes.push(tickAxis(gi, 'top', LOG_MIN, LOG_MAX, false, periodTicks, 5));
    const yi = yAxes.length;
    yAxes.push(...yLabelAxes(gi, SC_BOTTOM, max, false, ticks, ticks.map(String)));
    yAxes.push(tickAxis(gi, 'right', SC_BOTTOM, max, false, ticks, 5));
    yAxes.push(tickAxis(gi, 'left', SC_BOTTOM, max, false, minor, 2.5));
    yAxes.push(tickAxis(gi, 'right', SC_BOTTOM, max, false, minor, 2.5));
    const fap = fapLevels[r];
    series.push({ type: 'line', xAxisIndex: xi, yAxisIndex: yi, data: scData[r], symbol: 'none', clip: true, silent: true,
      lineStyle: { color: '#000', width: 1.2 },
      markLine: { silent: true, symbol: 'none', animation: false, label: { show: false },
        data: [{ xAxis: Math.log10(periods[r]), lineStyle: { type: [2, 2.5], color: '#000', width: 1 } }]
          .concat(fapPieces.map(([a, b]) => [{ coord: [a, fap], lineStyle: { type: 'solid', color: '#000', width: 1 } }, { coord: [b, fap] }])) } });
    text(COLS[2].left + 58.6, top + 15, 'fap=0.01', 14, 'center');
    text(COLS[2].left + 192, top + 15.5, 'SC', 17, 'right');
    text(COLS[2].left + COLS[2].width / 2, top + 159, 'time  (d)', 20, 'center');
  }

  // --- CLEAN periodogram ---
  {
    const gi = addGrid(3, top);
    const minor = stepTicks(0, CL_TOP, 0.05);
    const xi = xAxes.length;
    xAxes.push(xLabelAxis(gi, LOG_MIN, LOG_MAX, periodTicks, periodTickLabels));
    xAxes.push(tickAxis(gi, 'top', LOG_MIN, LOG_MAX, false, periodTicks, 5));
    const yi = yAxes.length;
    yAxes.push(...yLabelAxes(gi, CL_BOTTOM, CL_TOP, false, clTickValues, clTickLabels));
    yAxes.push(tickAxis(gi, 'right', CL_BOTTOM, CL_TOP, false, clTickValues, 5));
    yAxes.push(tickAxis(gi, 'left', CL_BOTTOM, CL_TOP, false, minor, 2.5));
    yAxes.push(tickAxis(gi, 'right', CL_BOTTOM, CL_TOP, false, minor, 2.5));
    series.push({ type: 'line', xAxisIndex: xi, yAxisIndex: yi, data: clData[r], symbol: 'none', clip: true, silent: true,
      lineStyle: { color: '#000', width: 1.2 },
      markLine: { silent: true, symbol: 'none', animation: false, label: { show: false },
        data: [{ xAxis: Math.log10(periods[r]), lineStyle: { type: [2, 2.5], color: '#3347f0', width: 1 } }] } });
    text(COLS[3].left + 190, top + 20.5, 'CL', 17, 'right');
    text(COLS[3].left + COLS[3].width / 2, top + 159, 'time  (d)', 20, 'center');
  }
}

const chart = echarts.init(document.getElementById('chart'), null, { renderer: 'canvas' });
chart.setOption({
  animation: false,
  backgroundColor: '#fff',
  textStyle: { fontFamily: FONT },
  grid: grids,
  xAxis: xAxes,
  yAxis: yAxes,
  series,
  graphic: graphics
});
</script>
</body>
</html>
